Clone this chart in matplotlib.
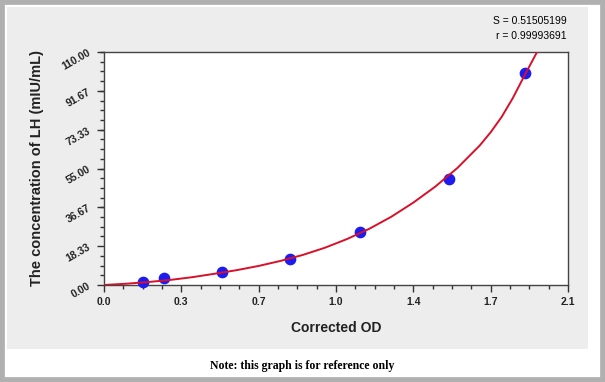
import numpy as np
import matplotlib.pyplot as plt
from matplotlib.patches import Rectangle
from matplotlib.ticker import AutoMinorLocator

# standard points (corrected OD, concentration)
od = [0.177, 0.272, 0.535, 0.84, 1.157, 1.56, 1.905]
conc = [1.56, 3.12, 6.25, 12.5, 25.0, 50.0, 100.0]

# fitted curve
curve_x = [0.0, 0.1, 0.2, 0.3, 0.4, 0.5, 0.6, 0.7, 0.8, 0.9, 1.0, 1.1, 1.2,
           1.3, 1.4, 1.5, 1.6, 1.7, 1.75, 1.8, 1.85, 1.9, 1.96]
curve_y = [0.0, 0.6, 1.4, 2.4, 3.7, 5.3, 7.0, 9.0, 11.4, 14.2, 17.6, 21.7, 26.5,
           32.2, 38.9, 46.5, 55.3, 65.8, 72.1, 79.4, 88.2, 98.3, 110.0]

xticks = [0.0, 0.35, 0.7, 1.05, 1.4, 1.75, 2.1]
xlabels = ['0.0', '0.3', '0.7', '1.0', '1.4', '1.7', '2.1']
yticks = [0, 18.33, 36.67, 55, 73.33, 91.67, 110]
ylabels = ['0.00', '18.33', '36.67', '55.00', '73.33', '91.67', '110.00']

plt.rcParams['font.family'] = ['Liberation Sans', 'DejaVu Sans']

fig = plt.figure(figsize=(6.05, 3.82), dpi=100)
fig.patch.set_facecolor('white')
W, H = 605, 382
# outer grey frame
fig.add_artist(Rectangle((0, 0), 1, 1, transform=fig.transFigure,
                         facecolor='none', edgecolor='#b0b0b0', linewidth=7, zorder=-2))
# light grey panel behind the chart
fig.add_artist(Rectangle((7 / W, 1 - 349 / H), (588 - 7) / W, (349 - 7) / H,
                         transform=fig.transFigure, facecolor='#ededed',
                         edgecolor='none', zorder=-2))

ax = fig.add_axes([104 / W, 1 - 285 / H, (568 - 104) / W, (285 - 52) / H])
ax.set_zorder(1)
ax.set_facecolor('white')
ax.scatter(od, conc, s=55, color='#1c1cf0', zorder=3, clip_on=False)
ax.plot(curve_x, curve_y, color='#d8102a', linewidth=1.4, zorder=4)

ax.set_xlim(0, 2.1)
ax.set_ylim(0, 110)
ax.set_xticks(xticks)
ax.set_xticklabels(xlabels, fontsize=7.5, fontweight='bold', color='#222222')
ax.set_yticks(yticks)
ax.set_yticklabels(ylabels, fontsize=7.5, fontweight='bold', color='#222222', rotation=30)
ax.xaxis.set_minor_locator(AutoMinorLocator(4))
ax.yaxis.set_minor_locator(AutoMinorLocator(4))
ax.tick_params(which='major', length=5, width=1, color='#333333')
ax.tick_params(which='minor', length=3, width=1, color='#333333')
for s in ax.spines.values():
    s.set_color('#444444')
    s.set_linewidth(1)

ax.set_xlabel('Corrected OD', fontsize=10, fontweight='bold', color='#222222', labelpad=10)
ax.set_ylabel('The concentration of LH (mIU/mL)', fontsize=10.5, fontweight='bold',
              color='#222222', labelpad=12)

fig.text(567 / W, 1 - 21 / H, 'S = 0.51505199', ha='right', va='center', fontsize=7.5)
fig.text(567 / W, 1 - 36 / H, 'r = 0.99993691', ha='right', va='center', fontsize=7.5)
fig.text(302 / W, 1 - 366 / H, 'Note: this graph is for reference only', ha='center',
         va='center', fontsize=8.5, fontweight='bold', family='Liberation Serif')

fig.savefig('out.png', dpi=100)
